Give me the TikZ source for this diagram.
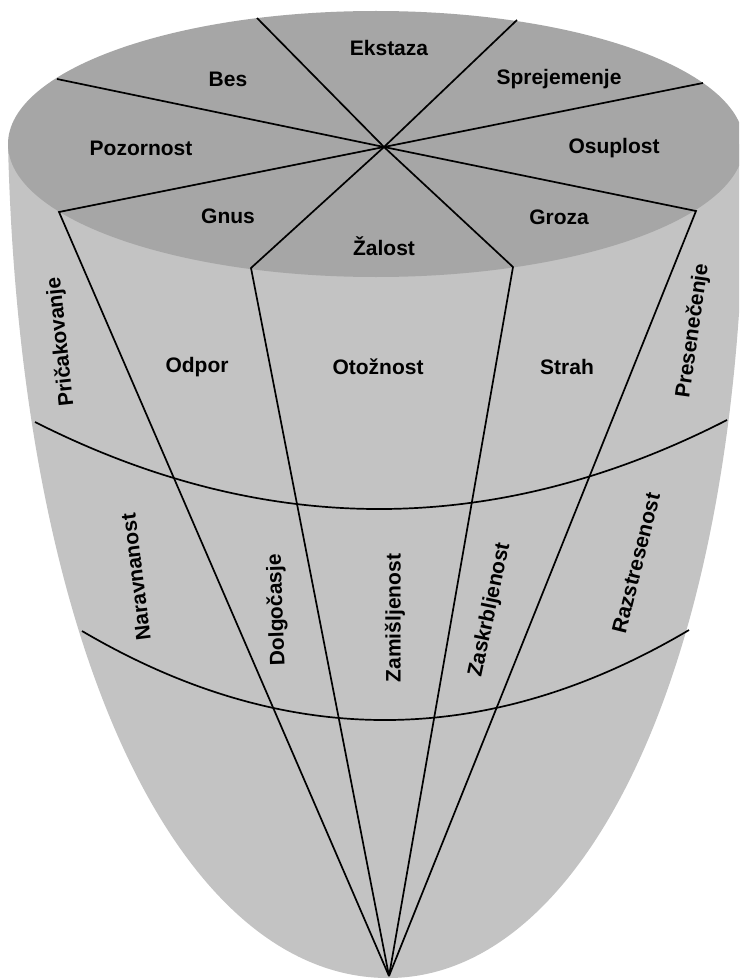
\documentclass[tikz,border=0pt]{standalone}
\usepackage{fontspec}
\setmainfont{Liberation Sans}
\begin{document}
\begin{tikzpicture}[x=1pt,y=-1pt,
  lbl/.style={font=\fontsize{21}{25}\selectfont\bfseries, text=black, inner sep=0pt},
  rib/.style={draw=black, line width=1.7pt, line join=miter},
  ring/.style={draw=black, line width=1.7pt}]
\definecolor{topgray}{RGB}{166,166,166}
\definecolor{bodygray}{RGB}{195,195,195}
\useasboundingbox (0,0) rectangle (739,979);
\clip (0,0) rectangle (739,979);
\fill[white] (0,0) rectangle (739,979);

% cone body
\fill[bodygray] (8,144) .. controls (20,650) and (180,978) .. (388,978)
  .. controls (590,978) and (748,650) .. (744,144) -- cycle;
% top disk
\fill[topgray] (376,144) ellipse [x radius=368pt, y radius=133pt];

% key points
\coordinate (hub) at (384,147);
\coordinate (apex) at (389,976);
\coordinate (r1) at (257,18);
\coordinate (r2) at (517,20);
\coordinate (r3) at (57,79);
\coordinate (r4) at (703,83);
\coordinate (r5) at (59,212);
\coordinate (r6) at (696,211);
\coordinate (r7) at (251,268);
\coordinate (r8) at (513,267);
\coordinate (ua) at (35,422);
\coordinate (ub) at (727,420);
\coordinate (la) at (82,631);
\coordinate (lb) at (689,630);

% rings around the cone
\draw[ring] (ua) .. controls (265.7,538.7) and (496.3,538) .. (ub);
\draw[ring] (la) .. controls (284.3,750) and (486.7,749.7) .. (lb);

% spokes on the disk
\foreach \r in {r1,r2,r3,r4} \draw[rib] (hub) -- (\r);
% spokes continuing down the cone
\draw[rib] (hub) -- (r5) -- (apex);
\draw[rib] (hub) -- (r7) -- (apex);
\draw[rib] (hub) -- (r8) -- (apex);
\draw[rib] (hub) -- (r6) -- (apex);

% disk labels
\node[lbl] (ekstaza) at (389,48) {Ekstaza};
\node[lbl] (bes) at (228,79) {Bes};
\node[lbl] (sprejemenje) at (559,79) {Sprejemenje};
\node[lbl] (pozornost) at (141,148) {Pozornost};
\node[lbl] (osuplost) at (614,148) {Osuplost};
\node[lbl] (gnus) at (228,216) {Gnus};
\node[lbl] (groza) at (559,217) {Groza};
\node[lbl] (zalost) at (384,246) {Žalost};

% upper band labels
\node[lbl] (odpor) at (197,367) {Odpor};
\node[lbl] (otoznost) at (378,367) {Otožnost};
\node[lbl] (strah) at (567,367) {Strah};
\node[lbl, rotate=96] (pricakovanje) at (61,342) {Pričakovanje};
\node[lbl, rotate=82] (presenecenje) at (693,331) {Presenečenje};

% lower band labels
\node[lbl, rotate=97] (naravnanost) at (136,577) {Naravnanost};
\node[lbl, rotate=92] (dolgocasje) at (277,610) {Dolgočasje};
\node[lbl, rotate=90] (zamisljenost) at (395,618) {Zamišljenost};
\node[lbl, rotate=78] (zaskrbljenost) at (490,610) {Zaskrbljenost};
\node[lbl, rotate=76] (razstresenost) at (636,563) {Razstresenost};
\end{tikzpicture}
\end{document}
